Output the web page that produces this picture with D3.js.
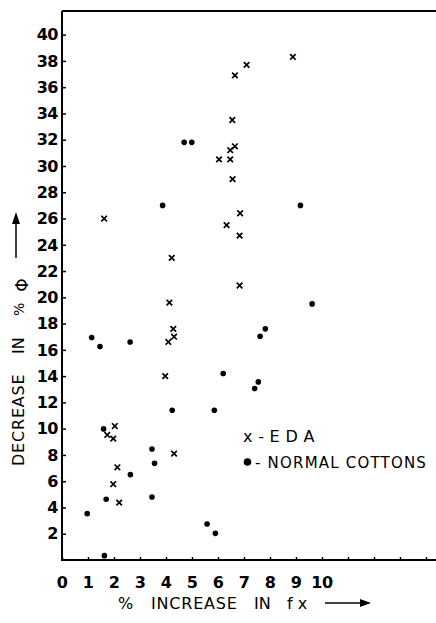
<!DOCTYPE html>
<html><head><meta charset="utf-8">
<script src="https://cdn.jsdelivr.net/npm/d3@7"></script>
<style>
html,body{margin:0;padding:0;background:#fff;}
svg{display:block;font-family:"DejaVu Sans",sans-serif;}
</style></head>
<body>
<script>
// ---- data ----
const edaX = [1.62, 4.22, 4.13, 4.28, 4.31, 4.09, 3.97, 4.31, 1.74, 1.97, 2.03, 2.13, 1.97, 2.20, 8.88, 7.10, 6.65, 6.55, 6.65, 6.47, 6.04, 6.47, 6.56, 6.85, 6.33, 6.83, 6.83];
const edaY = [26.0, 23.0, 19.6, 17.6, 17.0, 16.6, 14.0, 8.1, 9.52, 9.24, 10.2, 7.06, 5.77, 4.37, 38.3, 37.7, 36.9, 33.5, 31.5, 31.2, 30.5, 30.5, 29.0, 26.4, 25.5, 24.7, 20.9];
const normX = [4.70, 4.99, 3.87, 9.17, 9.62, 7.82, 7.62, 1.14, 1.46, 2.62, 6.20, 7.55, 7.41, 4.24, 5.86, 1.60, 3.46, 3.56, 2.63, 1.70, 3.46, 0.97, 5.58, 5.90, 1.63];
const normY = [31.8, 31.8, 27.0, 27.0, 19.5, 17.6, 17.04, 16.94, 16.25, 16.6, 14.2, 13.56, 13.05, 11.4, 11.4, 9.98, 8.45, 7.37, 6.5, 4.62, 4.8, 3.53, 2.74, 2.03, 0.33];
const xTicks = [0,1,2,3,4,5,6,7,8,9,10,11,12,13,14];
const xTickLabels = ["0","1","2","3","4","5","6","7","8","9","10"];
const yTicks = [2,4,6,8,10,12,14,16,18,20,22,24,26,28,30,32,34,36,38,40];
const legendLabels = ["x - E D A", "- NORMAL COTTONS"];
const xTitle = ["%", "INCREASE", "IN", "f x"];
const yTitle = ["DECREASE", "IN", "%", "Φ"];

// ---- layout ----
const W = 436, H = 623;
const x = d3.scaleLinear().domain([0, 10]).range([62, 322]);
const y = d3.scaleLinear().domain([0, 41.8]).range([560, 11]);

const svg = d3.select("body").append("svg").attr("width", W).attr("height", H);

// frame lines
svg.append("line").attr("x1", 62).attr("x2", W).attr("y1", y(41.8)).attr("y2", y(41.8)).attr("stroke", "#000").attr("stroke-width", 2);
svg.append("line").attr("x1", 62).attr("x2", 62).attr("y1", y(41.8)).attr("y2", 561).attr("stroke", "#000").attr("stroke-width", 2);
svg.append("line").attr("x1", 61).attr("x2", W).attr("y1", 560).attr("y2", 560).attr("stroke", "#000").attr("stroke-width", 2);

// y axis (inward ticks)
const yAxis = d3.axisRight(y).tickValues(yTicks).tickSize(4).tickFormat("");
const gy = svg.append("g").attr("transform", "translate(62,0)").call(yAxis);
gy.select(".domain").remove();
gy.selectAll("line").attr("stroke-width", 1.5);
svg.append("g").selectAll("text").data(yTicks).join("text")
  .attr("x", 58).attr("y", d => y(d)).attr("dy", "0.36em")
  .attr("text-anchor", "end").attr("font-size", 16).attr("font-weight", "bold").attr("letter-spacing", -0.5)
  .text(d => d);

// x axis (upward ticks)
const xAxis = d3.axisTop(x).tickValues(xTicks).tickSize(3).tickFormat("");
const gx = svg.append("g").attr("transform", "translate(0,560)").call(xAxis);
gx.select(".domain").remove();
gx.selectAll("line").attr("stroke-width", 1.5);
svg.append("g").selectAll("text").data(xTickLabels).join("text")
  .attr("x", (d) => x(+d)).attr("y", 588)
  .attr("text-anchor", "middle").attr("font-size", 16).attr("font-weight", "bold").attr("letter-spacing", -0.5)
  .text(d => d);

// points
const eda = edaX.map((v, i) => [v, edaY[i]]);
const norm = normX.map((v, i) => [v, normY[i]]);
const xSym = d3.symbol().type(d3.symbolX).size(22);
svg.append("g").selectAll("path").data(eda).join("path")
  .attr("transform", d => `translate(${x(d[0])},${y(d[1])})`)
  .attr("d", xSym).attr("fill", "none").attr("stroke", "#000").attr("stroke-width", 1.7);
svg.append("g").selectAll("circle").data(norm).join("circle")
  .attr("cx", d => x(d[0])).attr("cy", d => y(d[1])).attr("r", 2.8).attr("fill", "#000");

// legend
svg.append("text").attr("x", 243).attr("y", 442).attr("font-size", 16).attr("letter-spacing", 0.3).text(legendLabels[0]);
svg.append("circle").attr("cx", 247.5).attr("cy", 462).attr("r", 3.8).attr("fill", "#000");
svg.append("text").attr("x", 255).attr("y", 468).attr("font-size", 15).attr("letter-spacing", 1.2).text(legendLabels[1]);

// x title
const xt = svg.append("g").attr("font-size", 16);
xt.append("text").attr("x", 118).attr("y", 609).text(xTitle[0]);
xt.append("text").attr("x", 151).attr("y", 609).attr("letter-spacing", 0.8).text(xTitle[1]);
xt.append("text").attr("x", 254).attr("y", 609).text(xTitle[2]);
xt.append("text").attr("x", 287).attr("y", 609).text(xTitle[3]);
svg.append("line").attr("x1", 325).attr("x2", 362).attr("y1", 603).attr("y2", 603).attr("stroke", "#000").attr("stroke-width", 1.5);
svg.append("path").attr("d", "M360,599 L371,603 L360,607 Z").attr("fill", "#000");

// y title (rotated)
const yt = svg.append("g").attr("font-size", 16);
yt.append("text").attr("transform", "translate(24,466) rotate(-90)").attr("letter-spacing", 0.8).text(yTitle[0]);
yt.append("text").attr("transform", "translate(24,354) rotate(-90)").text(yTitle[1]);
yt.append("text").attr("transform", "translate(24,316) rotate(-90)").attr("font-size", 14).text(yTitle[2]);
yt.append("text").attr("transform", "translate(22,285) rotate(-90)").attr("text-anchor", "middle").attr("dy", "0.36em").attr("font-size", 17).text(yTitle[3]);
svg.append("line").attr("x1", 16).attr("x2", 16).attr("y1", 258).attr("y2", 222).attr("stroke", "#000").attr("stroke-width", 1.5);
svg.append("path").attr("d", "M12,224 L16,212 L20,224 Z").attr("fill", "#000");
</script>
</body></html>
